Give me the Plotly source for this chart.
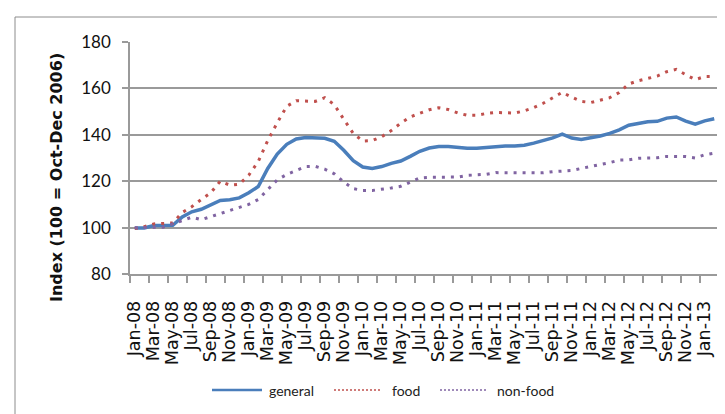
import plotly.graph_objects as go

month_names = ["Jan", "Feb", "Mar", "Apr", "May", "Jun", "Jul", "Aug", "Sep", "Oct", "Nov", "Dec"]
categories = [f"{m}-{y:02d}" for y in range(8, 14) for m in month_names][:62]

general = [99.8, 99.8, 100.9, 101.0, 101.0, 104.6, 106.8, 107.9, 109.7, 111.7,
           112.0, 112.8, 115.0, 117.7, 125.5, 131.7, 135.9, 138.2, 138.8, 138.7,
           138.5, 137.2, 133.3, 128.8, 126.1, 125.5, 126.3, 127.7, 128.7, 130.7,
           132.9, 134.3, 135.0, 135.0, 134.6, 134.2, 134.2, 134.5, 135.1, 135.2,
           135.2, 135.5, 136.4, 137.4, 138.7, 140.3, 138.6, 138.0, 138.6, 139.5,
           140.6, 142.1, 144.1, 145.0, 145.6, 145.8, 147.2, 147.7, 145.9, 144.6,
           146.0, 146.9]

food = [99.6, 100.4, 101.6, 101.7, 102.0, 106.5, 109.0, 112.1, 115.0, 120.0,
        118.3, 118.7, 122.6, 128.5, 137.5, 145.2, 152.3, 154.7, 154.5, 154.4,
        156.0, 153.0, 146.7, 140.6, 137.3, 137.5, 139.2, 141.8, 145.0, 147.7,
        149.3, 150.8, 151.7, 150.9, 149.4, 148.4, 148.4, 149.2, 149.6, 149.4,
        149.4, 150.3, 151.7, 153.6, 155.8, 158.3, 156.2, 154.4, 153.9, 155.0,
        156.0, 158.2, 161.9, 163.3, 164.4, 165.3, 167.2, 168.2, 165.9, 163.8,
        165.1, 165.1]

non_food = [99.9, 99.9, 99.9, 100.2, 101.6, 103.2, 104.5, 103.4, 104.7, 105.8,
            107.1, 108.6, 110.0, 112.1, 116.2, 120.6, 122.9, 124.7, 126.3, 126.4,
            125.2, 123.2, 119.7, 116.8, 116.0, 116.0, 116.4, 117.1, 117.8, 119.6,
            121.4, 121.7, 121.7, 121.6, 121.8, 122.5, 122.7, 123.0, 123.7, 123.7,
            123.4, 123.4, 123.4, 123.6, 124.1, 124.5, 124.6, 125.5, 126.5, 127.2,
            128.0, 129.1, 129.2, 129.9, 130.0, 130.1, 130.7, 130.7, 130.6, 130.0,
            131.4, 132.1]

series_names = ["general", "food", "non-food"]
tick_labels = categories[::2]
y_ticks = [80, 100, 120, 140, 160, 180]

x = list(range(len(categories)))
tick_vals = x[::2]

GRID = "#9a9a9a"
COLORS = ["#4A7EBB", "#C0504D", "#8064A2"]

fig = go.Figure()
fig.add_trace(go.Scatter(x=x, y=general, mode="lines", name=series_names[0],
                         line=dict(color=COLORS[0], width=3.5)))
fig.add_trace(go.Scatter(x=x, y=food, mode="lines", name=series_names[1],
                         line=dict(color=COLORS[1], width=3, dash="3px,6px")))
fig.add_trace(go.Scatter(x=x, y=non_food, mode="lines", name=series_names[2],
                         line=dict(color=COLORS[2], width=3, dash="3px,6px")))

W, H = 725, 414
L, R, T, B = 122, 14, 34, 148
pw, ph = W - L - R, H - T - B


def px(xp):
    return (xp - L) / pw


def py(yp):
    return (T + ph - yp) / ph


# legend drawn as shapes + text (long line samples as in the reference)
legend_y = 382
legend_items = [(204, 254, 259), (326, 374, 382), (432, 480, 487)]
legend_styles = [dict(width=2.5), dict(width=1.5, dash="2px,2px"), dict(width=1.5, dash="2px,2px")]

shapes = [dict(type="rect", xref="paper", yref="paper",
               x0=px(7), x1=px(740), y0=py(440), y1=py(9),
               line=dict(color="#8c8c8c", width=1), layer="below")]
annotations = [dict(text="<b>Index (100 = Oct-Dec 2006)</b>", textangle=-90,
                    xref="paper", yref="paper", x=px(48), y=py(170),
                    xanchor="center", yanchor="middle", showarrow=False,
                    font=dict(family="DejaVu Sans", size=16, color="#111"))]
for (x0, x1, xt), name, col, st in zip(legend_items, series_names, COLORS, legend_styles):
    shapes.append(dict(type="line", xref="paper", yref="paper",
                       x0=px(x0), x1=px(x1), y0=py(legend_y), y1=py(legend_y),
                       line=dict(color=col, **st)))
    annotations.append(dict(text=name, xref="paper", yref="paper",
                            x=px(xt), y=py(legend_y), xanchor="left", yanchor="middle",
                            showarrow=False,
                            font=dict(family="Lato", size=14, color="#222")))

fig.update_layout(
    width=W, height=H,
    margin=dict(l=L, r=R, t=T, b=B),
    paper_bgcolor="white", plot_bgcolor="white",
    showlegend=False,
    xaxis=dict(range=[-0.5, len(categories) - 0.5], tickmode="array",
               tickvals=tick_vals, ticktext=tick_labels, tickangle=-90,
               ticks="", showgrid=False, zeroline=False,
               showline=True, linecolor=GRID, linewidth=1.5,
               tickfont=dict(family="DejaVu Sans", size=17.5, color="#111"),
               ticklabelstandoff=18,
               minor=dict(tickmode="linear", tick0=-0.5, dtick=2, ticks="outside",
                          ticklen=7, tickcolor=GRID, tickwidth=1.5, showgrid=False)),
    yaxis=dict(range=[80, 180], tickmode="array", tickvals=y_ticks,
               ticks="outside", ticklen=6, tickcolor=GRID, tickwidth=1.5,
               showgrid=True, gridcolor=GRID, gridwidth=1.5, zeroline=False,
               showline=True, linecolor=GRID, linewidth=1.5,
               tickfont=dict(family="Lato", size=17, color="#111"),
               ticklabelstandoff=8),
    shapes=shapes,
    annotations=annotations,
)

fig.write_html("out.html")
